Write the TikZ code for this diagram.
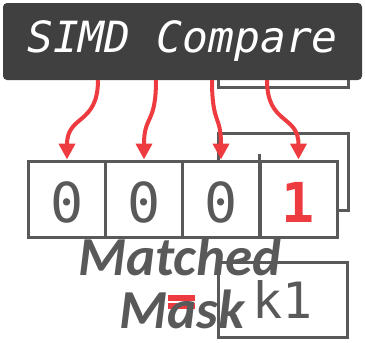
\documentclass[tikz,border=0pt]{standalone}
\usepackage{fontspec}
\newfontfamily\codefont{DejaVu Sans Mono}
\newfontfamily\labelfont{Carlito}
\usetikzlibrary{arrows.meta}
\definecolor{boxdark}{RGB}{64,64,64}
\definecolor{linegray}{RGB}{89,89,89}
\definecolor{hitred}{RGB}{238,59,64}

\begin{document}
\begin{tikzpicture}[x=1pt, y=-1pt,
        cell/.style={rectangle, draw=linegray, line width=3pt, fill=white, minimum width=77pt, minimum height=76pt, inner sep=0pt, text height=46pt, text depth=0pt, font=\codefont\fontsize{55}{55}\selectfont, text=linegray},
        backbox/.style={draw=linegray, line width=3pt},
        match/.style={draw=hitred, line width=4pt, -{Triangle[length=16pt, width=16pt]}},
        label/.style={anchor=base, font=\labelfont\bfseries\itshape\fontsize{55}{55}\selectfont, text=linegray},
        ]
        \useasboundingbox (0,0) rectangle (365,343);
        % Registers behind, partly hidden
        \draw[backbox] (218,40) rectangle (348,87);
        \draw[backbox] (218,133) rectangle (348,210);
        \draw[backbox] (259.5,154) -- (259.5,161);

        % Instruction banner
        \node[rectangle, rounded corners=4pt, fill=boxdark, minimum width=359pt, minimum height=77pt, font=\codefont\itshape\fontsize{43}{43}\selectfont, text=white] (simd) at (182.5,41.5) {SIMD Compare};

        % Lanes of the compare result
        \foreach \i/\x in {1/67, 2/144, 3/221} {
            \node[cell] (c\i) at (\x,199) {0};
        }
        \node[cell, text=hitred, font=\codefont\bfseries\fontsize{55}{55}\selectfont] (c4) at (298.5,199) {1};

        % One arrow per lane
        \foreach \i/\x in {1/98, 2/156, 3/212, 4/267} {
            \coordinate (s\i) at (\x,80);
            \draw[match] (s\i) .. controls +(0,45) and +(0,-45) .. (c\i.north);
        }

        % Mask register
        \fill[hitred] (168,295) rectangle (195,301);
        \fill[hitred] (168,303) rectangle (195,309);
        \node[rectangle, draw=linegray, line width=3pt, minimum width=129pt, minimum height=75pt, font=\codefont\fontsize{50}{50}\selectfont, text=linegray] (k1) at (282.5,299.5) {k1};
        \node[label] (matched) at (180,275) {Matched};
        \node[label] (mask) at (182,328) {Mask};

    \end{tikzpicture}
\end{document}
